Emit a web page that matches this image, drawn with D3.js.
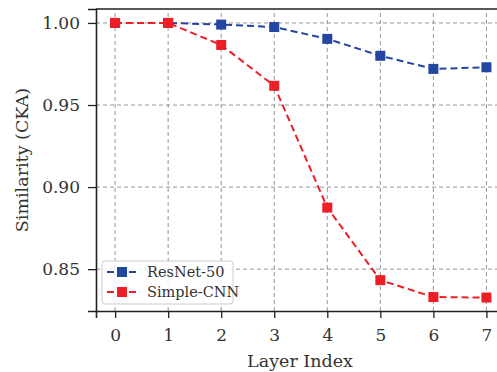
<!DOCTYPE html>
<html>
<head>
<meta charset="utf-8">
<script src="https://cdn.jsdelivr.net/npm/d3@7"></script>
<style>
  body { margin: 0; background: #fff; }
  svg { display: block; }
  text { font-family: "DejaVu Serif", serif; fill: #333; }
</style>
</head>
<body>
<div id="chart"></div>
<script>
const width = 497;
const height = 372;

// data
const layers = [0, 1, 2, 3, 4, 5, 6, 7];
const resnet = [1.000, 1.000, 0.999, 0.9975, 0.9903, 0.980, 0.972, 0.973];
const simple = [1.000, 1.000, 0.9866, 0.9617, 0.8875, 0.8433, 0.833, 0.8327];
const yTicks = [0.85, 0.90, 0.95, 1.00];

const series = [
    {name: "ResNet-50", values: resnet, color: "#2346a2"},
    {name: "Simple-CNN", values: simple, color: "#ec1f26"}
];

const margin = {top: 9, left: 96, bottom: 61};

const x = d3.scaleLinear()
    .domain([-0.36, 7.35])
    .range([margin.left, 505]);
const y = d3.scaleLinear()
    .domain([0.8245, 1.0085])
    .range([height - margin.bottom, margin.top]);

const svg = d3.select("#chart")
    .append("svg")
    .attr("width", width)
    .attr("height", height);

// grid
const grid = svg.append("g");
grid.selectAll("line.vx")
    .data(layers)
    .join("line")
    .attr("x1", d => x(d)).attr("x2", d => x(d))
    .attr("y1", y.range()[0]).attr("y2", y.range()[1])
    .attr("stroke", "#8a8a8a").attr("stroke-width", 0.9)
    .attr("stroke-dasharray", "4,3");
grid.selectAll("line.hy")
    .data(yTicks)
    .join("line")
    .attr("x1", x.range()[0]).attr("x2", x.range()[1])
    .attr("y1", d => y(d)).attr("y2", d => y(d))
    .attr("stroke", "#8a8a8a").attr("stroke-width", 0.9)
    .attr("stroke-dasharray", "4,3");

// axes
const xAxis = svg.append("g")
    .attr("transform", `translate(0,${y.range()[0]})`)
    .call(d3.axisBottom(x).tickValues(layers).tickFormat(d3.format("d")).tickSize(7).tickPadding(11));
const yAxis = svg.append("g")
    .attr("transform", `translate(${x.range()[0]},0)`)
    .call(d3.axisLeft(y).tickValues(yTicks).tickFormat(d3.format(".2f")).tickSize(8).tickPadding(8));

[xAxis, yAxis].forEach(g => {
    g.select(".domain").attr("stroke", "#222").attr("stroke-width", 1.6);
    g.selectAll(".tick line").attr("stroke", "#222").attr("stroke-width", 1.3);
    g.selectAll(".tick text")
        .attr("font-family", "DejaVu Serif, serif")
        .attr("font-size", 17)
        .attr("fill", "#333");
});

// top spine
svg.append("line")
    .attr("x1", x.range()[0]).attr("x2", x.range()[1])
    .attr("y1", y.range()[1]).attr("y2", y.range()[1])
    .attr("stroke", "#222").attr("stroke-width", 1.6);

// lines
const line = d3.line()
    .x((d, i) => x(layers[i]))
    .y(d => y(d));

series.forEach(s => {
    svg.append("path")
        .datum(s.values)
        .attr("d", line)
        .attr("fill", "none")
        .attr("stroke", s.color)
        .attr("stroke-width", 2)
        .attr("stroke-dasharray", "7,4");
    svg.append("g")
        .selectAll("rect")
        .data(s.values)
        .join("rect")
        .attr("x", (d, i) => x(layers[i]) - 5)
        .attr("y", d => y(d) - 5)
        .attr("width", 10)
        .attr("height", 10)
        .attr("fill", s.color);
});

// axis labels
svg.append("text")
    .attr("x", 300)
    .attr("y", 367)
    .attr("text-anchor", "middle")
    .attr("font-size", 17.5)
    .text("Layer Index");
svg.append("text")
    .attr("transform", `translate(28,160) rotate(-90)`)
    .attr("text-anchor", "middle")
    .attr("font-size", 17.5)
    .text("Similarity (CKA)");

// legend
const legend = svg.append("g").attr("transform", "translate(102,261)");
legend.append("rect")
    .attr("width", 131).attr("height", 43)
    .attr("rx", 3)
    .attr("fill", "#fff").attr("fill-opacity", 0.85)
    .attr("stroke", "#ccc").attr("stroke-width", 1);
series.forEach((s, i) => {
    const yy = 11 + i * 20;
    legend.append("line")
        .attr("x1", 5).attr("x2", 35)
        .attr("y1", yy).attr("y2", yy)
        .attr("stroke", s.color).attr("stroke-width", 2)
        .attr("stroke-dasharray", "7,4");
    legend.append("rect")
        .attr("x", 15).attr("y", yy - 5)
        .attr("width", 10).attr("height", 10)
        .attr("fill", s.color);
    legend.append("text")
        .attr("x", 45).attr("y", yy + 5)
        .attr("font-size", 14.5)
        .text(s.name);
});
</script>
</body>
</html>
